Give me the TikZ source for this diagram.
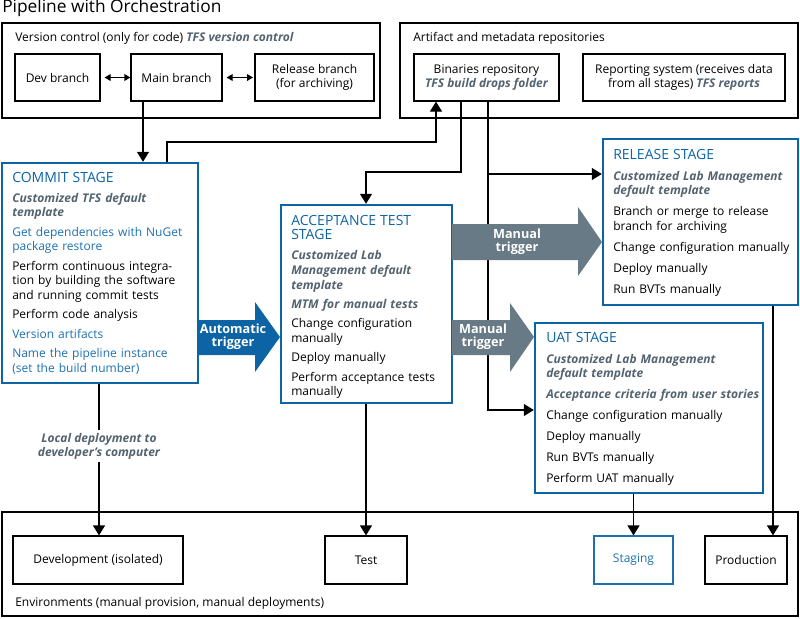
\documentclass[tikz,border=0pt]{standalone}
\usepackage{fontspec}
\setmainfont{Open Sans}
\usetikzlibrary{positioning, fit, arrows.meta}

\definecolor{stageblue}{RGB}{12,100,165}
\definecolor{taskblue}{RGB}{28,112,178}
\definecolor{triggray}{RGB}{104,122,134}
\definecolor{noteslate}{RGB}{84,99,112}

\newcommand{\stagehead}[1]{{\fontsize{10.5}{10.5}\selectfont\color{stageblue}#1}}
\newcommand{\tfsnote}[1]{{\bfseries\itshape\color{noteslate}#1}}
\newcommand{\bluetask}[1]{{\color{taskblue}#1}}

\tikzset{
  box/.style={draw, line width=0.9pt, inner sep=0pt},
  stage/.style={draw=stageblue, line width=1.8pt, inner sep=0pt},
  stagetext/.style={anchor=north west, inner sep=0pt, text width=175pt, align=left},
  conn/.style={line width=0.9pt, -{Triangle[width=9pt,length=7.5pt]}},
  dbl/.style={line width=0.9pt, {Triangle[width=5pt,length=4.5pt]}-{Triangle[width=5pt,length=4.5pt]}},
  trigtext/.style={text=white, font=\bfseries\fontsize{9.5}{9.8}\selectfont, align=center, inner sep=0pt}
}

\begin{document}
\begin{tikzpicture}[x=0.75pt, y=-0.75pt, font=\fontsize{9}{10.9}\selectfont]
    \useasboundingbox (0,0) rectangle (800,618);

    \node[anchor=west, inner sep=0pt] (title) at (2,8) {\fontsize{13}{13}\selectfont Pipeline with Orchestration};

    % version control
    \node[box, fit={(2,23) (380,118)}] (vc) {};
    \node[anchor=west, inner sep=0pt] (vclabel) at (15,38.5) {Version control (only for code) \tfsnote{TFS version control}};
    \node[box, fit={(15,54) (100,101)}, label=center:Dev branch] (dev) {};
    \node[box, fit={(131,54) (222,101)}, label=center:Main branch] (main) {};
    \node[box, fit={(255,54) (374,101)}, label={[align=center]center:Release branch\\(for archiving)}] (rel) {};
    \draw[dbl, shorten <=3pt] (dev) -- (main);
    \draw[dbl, shorten <=3pt, shorten >=1pt] (main) -- (rel);

    % repositories
    \node[box, fit={(400,23) (798,118)}] (art) {};
    \node[anchor=west, inner sep=0pt] (artlabel) at (413,38.5) {Artifact and metadata repositories};
    \node[box, fit={(414,54) (559,101)}, label={[align=center]center:Binaries repository\\\tfsnote{TFS build drops folder}}] (bin) {};
    \node[box, fit={(583,54) (785,101)}, label={[align=center]center:Reporting system (receives data\\from all stages) \tfsnote{TFS reports}}] (rep) {};

    % stages
    \node[stage, fit={(2,163) (198,383)}] (commit) {};
    \node[stagetext] (committxt) at (12,172) {%
        \stagehead{COMMIT STAGE}\\[4.1pt]
        \tfsnote{Customized TFS default\\template}\\[3.7pt]
        \bluetask{Get dependencies with NuGet\\package restore}\\[3.7pt]
        Perform continuous integra-\\tion by building the software\\and running commit tests\\[3.7pt]
        Perform code analysis\\[3.7pt]
        \bluetask{Version artifacts}\\[3.7pt]
        \bluetask{Name the pipeline instance\\(set the build number)}};

    \node[stage, fit={(281,205) (452,403)}] (accept) {};
    \node[stagetext] (accepttxt) at (291,215) {%
        \stagehead{ACCEPTANCE TEST\\STAGE}\\[4.1pt]
        \tfsnote{Customized Lab\\Management default\\template}\\[3.7pt]
        \tfsnote{MTM for manual tests}\\[3.7pt]
        Change configuration\\manually\\[3.7pt]
        Deploy manually\\[3.7pt]
        Perform acceptance tests\\manually};

    \node[stage, fit={(603,139) (798,305)}] (release) {};
    \node[stagetext] (releasetxt) at (613,149) {%
        \stagehead{RELEASE STAGE}\\[4.8pt]
        \tfsnote{Customized Lab Management\\default template}\\[4.8pt]
        Branch or merge to release\\branch for archiving\\[4.8pt]
        Change configuration manually\\[4.8pt]
        Deploy manually\\[4.8pt]
        Run BVTs manually};

    \node[stage, fit={(535,323) (763,493)}] (uat) {};
    \node[stagetext] (uattxt) at (546,332) {%
        \stagehead{UAT STAGE}\\[4.8pt]
        \tfsnote{Customized Lab Management\\default template}\\[4.8pt]
        \tfsnote{Acceptance criteria from user stories}\\[4.8pt]
        Change configuration manually\\[4.8pt]
        Deploy manually\\[4.8pt]
        Run BVTs manually\\[4.8pt]
        Perform UAT manually};

    % environments
    \node[box, fit={(2,512) (798,616)}] (env) {};
    \node[anchor=west, inner sep=0pt] (envlabel) at (15,603) {Environments (manual provision, manual deployments)};
    \node[box, fit={(13,536) (183,584)}, label=center:Development (isolated)] (devenv) {};
    \node[box, fit={(325,536) (407,584)}, label=center:Test] (test) {};
    \node[box, draw=taskblue, fit={(594,536) (673,584)}, label={[text=taskblue]center:Staging}] (staging) {};
    \node[box, fit={(705,536) (787,584)}, label=center:Production] (prod) {};

    % connectors
    \coordinate (k0) at (143,0);
    \coordinate (k1) at (167,142);
    \coordinate (k2) at (436,142);
    \coordinate (k3) at (461,172);
    \coordinate (k4) at (366,172);
    \coordinate (k5) at (488,174);
    \coordinate (k6) at (488,410);
    \coordinate (k7) at (99,0);
    \coordinate (k8) at (773,0);

    \draw[conn] (k0 |- main.south) -- (k0 |- commit.north);
    \draw[conn] (k1 |- commit.north) -- (k1) -- (k2) -- (k2 |- bin.south);
    \draw[conn] (k3 |- bin.south) -- (k3) -- (k4) -- (k4 |- accept.north);
    \draw[conn] (k5 |- bin.south) -- (k6) -- (k6 -| uat.west);
    \draw[conn] (k5) -- (k5 -| release.west);
    \draw[conn] (k7 |- commit.south) -- node[pos=0.41, fill=white, inner sep=2pt, align=center, font=\bfseries\itshape\fontsize{9}{10.9}\selectfont, text=noteslate] (localnote) {Local deployment to\\developer’s computer} (k7 |- devenv.north);
    \draw[conn] (k4 |- accept.south) -- (test.north);
    \draw[conn] (uat.south -| staging.north) -- (staging.north);
    \draw[conn] (k8 |- release.south) -- (k8 |- prod.north);

    % triggers
    \fill[stageblue] (198,320) -- (255,320) -- (255,302) -- (280,337) -- (255,372) -- (255,355) -- (198,355) -- cycle;
    \fill[triggray] (452,224) -- (578,224) -- (578,207) -- (602,242) -- (578,276) -- (578,260) -- (452,260) -- cycle;
    \fill[triggray] (452,320) -- (510,320) -- (510,303) -- (534,337) -- (510,372) -- (510,355) -- (452,355) -- cycle;
    \node[trigtext] (autotrig) at (233,337) {Automatic\\trigger};
    \node[trigtext] (mantrigrel) at (517,242) {Manual\\trigger};
    \node[trigtext] (mantriguat) at (483,337) {Manual\\trigger};
\end{tikzpicture}
\end{document}
